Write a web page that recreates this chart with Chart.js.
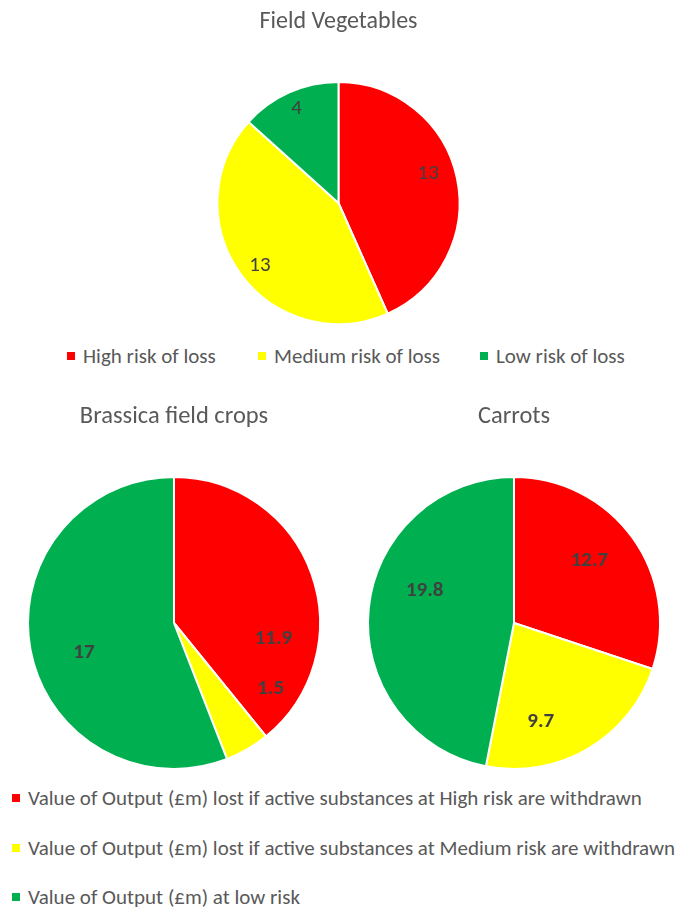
<!DOCTYPE html>
<html>
<head>
<meta charset="utf-8">
<script src="https://cdn.jsdelivr.net/npm/chart.js@4"></script>
<style>
  html, body { margin: 0; padding: 0; background: #fff; }
  body { width: 677px; height: 910px; position: relative; overflow: hidden; font-family: Carlito, Lato, sans-serif; }
  .box { position: absolute; }
  .legend-row { position: absolute; color: #595959; white-space: nowrap; display: flex; align-items: center; }
  .sw { display: inline-block; width: 8px; height: 8px; margin-right: 8px; }
</style>
</head>
<body>
<div class="box" style="left:0;top:0;width:677px;height:325px;"><canvas id="fv"></canvas></div>
<div id="topLegend"></div>
<div class="box" style="left:0;top:390px;width:348px;height:380px;"><canvas id="br"></canvas></div>
<div class="box" style="left:340px;top:390px;width:348px;height:380px;"><canvas id="ca"></canvas></div>
<div id="bottomLegend"></div>
<script>
// ---- data ----
const riskCategories = ['High risk of loss', 'Medium risk of loss', 'Low risk of loss'];
const outputCategories = [
  'Value of Output (£m) lost if active substances at High risk are withdrawn',
  'Value of Output (£m) lost if active substances at Medium risk are withdrawn',
  'Value of Output (£m) at low risk'
];
const fieldVegetablesValues = [13, 13, 4];
const brassicaValues = [11.9, 1.5, 17];
const carrotsValues = [12.7, 9.7, 19.8];
const chartTitles = ['Field Vegetables', 'Brassica field crops', 'Carrots'];

// ---- styles ----
const sliceColors = ['#FF0000', '#FFFF00', '#00B050'];
const FONT = 'Carlito, Lato, sans-serif';

const sliceLabelPlugin = {
  id: 'sliceLabels',
  afterDatasetsDraw(chart, args, opts) {
    const ctx = chart.ctx;
    const meta = chart.getDatasetMeta(0);
    const data = chart.data.datasets[0].data;
    ctx.save();
    ctx.font = (opts.bold ? 'bold ' : '') + opts.size + 'px ' + FONT;
    ctx.fillStyle = '#404040';
    ctx.textAlign = 'center';
    ctx.textBaseline = 'middle';
    meta.data.forEach((arc, i) => {
      const p = arc.getProps(['x', 'y', 'startAngle', 'endAngle', 'outerRadius'], true);
      const shift = (opts.shift ? opts.shift[i] : 0) * Math.PI / 180;
      const a = (p.startAngle + p.endAngle) / 2 + shift;
      const r = p.outerRadius * (opts.radius ? opts.radius[i] : 0.7);
      ctx.fillText(String(data[i]), p.x + Math.cos(a) * r, p.y + Math.sin(a) * r);
    });
    ctx.restore();
  }
};

function makePie(id, title, labels, values, titleSize, titlePad, labelOpts) {
  return new Chart(document.getElementById(id), {
    type: 'pie',
    data: {
      labels: labels,
      datasets: [{ data: values, backgroundColor: sliceColors, borderColor: '#FFFFFF', borderWidth: 2 }]
    },
    options: {
      responsive: true,
      maintainAspectRatio: false,
      animation: false,
      layout: { padding: 0 },
      plugins: {
        title: { display: true, text: title, color: '#595959', font: { family: FONT, size: titleSize, weight: 'normal' }, padding: titlePad },
        legend: { display: false },
        tooltip: { enabled: false },
        sliceLabels: labelOpts
      }
    },
    plugins: [sliceLabelPlugin]
  });
}

makePie('fv', chartTitles[0], riskCategories, fieldVegetablesValues, 24, { top: 7.6, bottom: 44.6 },
  { size: 21, bold: false, shift: [-6, -2.5, 0], radius: [0.78, 0.83, 0.85] });
makePie('br', chartTitles[1], outputCategories, brassicaValues, 24.5, { top: 12.3, bottom: 44.3 },
  { size: 21, bold: true, shift: [28.7, -25.6, -7.7], radius: [0.69, 0.8, 0.65] });
makePie('ca', chartTitles[2], outputCategories, carrotsValues, 24.5, { top: 12.3, bottom: 44.3 },
  { size: 21, bold: true, shift: [-3.7, 15.1, 14.3], radius: [0.67, 0.7, 0.65] });

// ---- HTML legends ----
const topLegendX = [67, 258, 480];
const topLeg = document.getElementById('topLegend');
riskCategories.forEach((t, i) => {
  const row = document.createElement('div');
  row.className = 'legend-row';
  row.style.left = topLegendX[i] + 'px';
  row.style.top = '346px';
  row.style.height = '20px';
  row.style.fontSize = '21px';
  row.innerHTML = '<span class="sw" style="background:' + sliceColors[i] + '"></span>' + t;
  topLeg.appendChild(row);
});
const bottomLegendY = [788, 838, 887];
const botLeg = document.getElementById('bottomLegend');
outputCategories.forEach((t, i) => {
  const row = document.createElement('div');
  row.className = 'legend-row';
  row.style.left = '12px';
  row.style.top = bottomLegendY[i] + 'px';
  row.style.height = '20px';
  row.style.fontSize = '21px';
  row.innerHTML = '<span class="sw" style="background:' + sliceColors[i] + '"></span>' + t;
  botLeg.appendChild(row);
});
</script>
</body>
</html>
